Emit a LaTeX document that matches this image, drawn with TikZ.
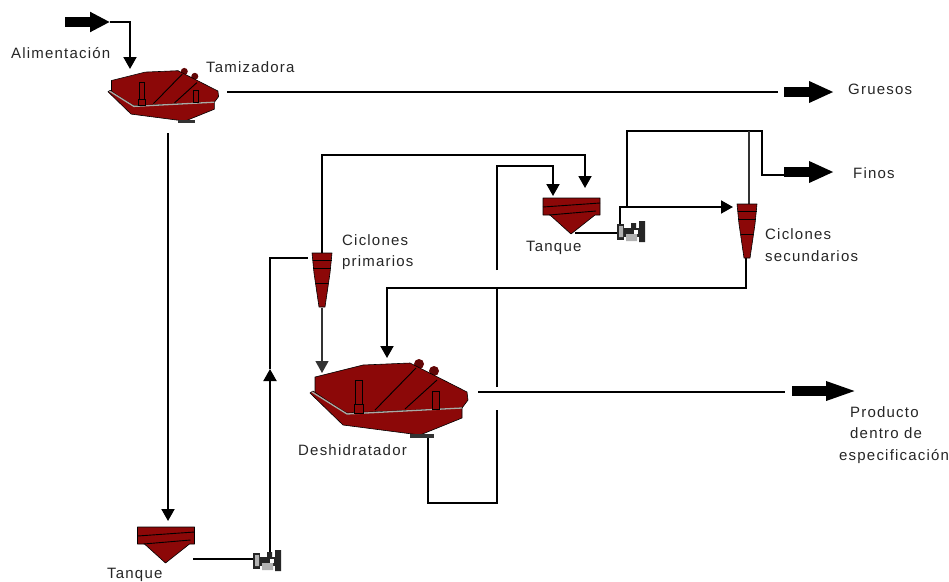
\documentclass[tikz,border=0pt]{standalone}
\usepackage{fontspec}
\setmainfont[LetterSpace=8]{Liberation Sans}
\usetikzlibrary{arrows.meta}
\definecolor{eqred}{RGB}{140,8,8}
\definecolor{eqgrey}{RGB}{170,170,165}
\tikzset{
  x=1pt,y=-1pt,
  flow/.style={draw=black,line width=1.9pt,line join=miter},
  thinflow/.style={draw=black!80,line width=1.2pt},
  tipped/.style={-{Triangle[length=12pt,width=13pt]}},
  bigtip/.style={draw=black,line width=9.5pt,-{Triangle[length=25pt,width=20pt]}},
  lab/.style={font=\fontsize{15}{21.5}\selectfont,inner sep=0pt,text=black!85,align=center},
  eq/.style={fill=eqred,draw=black,line width=.6pt,line join=round},
  eqline/.style={draw=black,line width=.9pt},
  screen/.pic={
    \fill[eqred!70!black] (109,-28) circle (5) (124,-21) circle (5);
    \path[eq] (5,-15) -- (53,-27) -- (100,-29) -- (157,0) -- (158,8) -- (152,16) -- (37,21) -- (5,2) -- cycle;
    \path[eq] (0,1) -- (3,-1) -- (37,22) -- (152,16) -- (152,26) -- (110,43) -- (33,33) -- cycle;
    \draw[eqgrey,line width=1.3pt] (2,0) -- (37,22) -- (152,16);
    \fill[black!80] (100,42) rectangle (124,46);
    \draw[eqline,fill=eqred] (45,-12) rectangle (52,12);
    \draw[eqline,fill=eqred] (44,12) rectangle (53,21);
    \draw[eqline,fill=eqred] (122,-1) rectangle (129,17);
    \draw[eqline] (65,18) -- (106,-24) (95,17) -- (127,-12);
  },
  hopper/.pic={
    \path[eq] (0,0) -- (57,0) -- (57,17) -- (52,17) -- (28,36) -- (7,17) -- (0,17) -- cycle;
    \draw[eqline] (0,9) -- (57,5) (6,17) -- (53,13);
  },
  cyclone/.pic={
    \path[eq] (-10,0) -- (10,0) -- (8,20) -- (3,54) -- (-3,54) -- (-8,20) -- cycle;
    \draw[eqline] (-9.5,7) -- (9.5,7) (-9,15) -- (9,15) (-6,30) -- (6,30);
  },
  pump/.pic={
    \fill[black!85] (0,3) rectangle (7,19);
    \fill[black!85] (7,7) rectangle (28,16);
    \fill[black!85] (14,2) rectangle (19,8) (22,0) rectangle (28,21);
    \fill[gray!60] (2,5) rectangle (6,16) (9,13) rectangle (20,20);
    \fill[white] (17,9) rectangle (21,13);
  }
}
\begin{document}
\begin{tikzpicture}
\useasboundingbox[fill=white] (0,0) rectangle (949,581);
% ports and bends
\coordinate (feedS) at (65,22);
\coordinate (feedT) at (110,22);
\coordinate (feedB) at (130,22);
\coordinate (feedE) at (130,69);
\coordinate (s1R) at (227,92);
\coordinate (s1Rb) at (778,92);
\coordinate (gruS) at (784,92);
\coordinate (gruE) at (834,92);
\coordinate (s1D) at (168,133);
\coordinate (t1T) at (168,521);
\coordinate (t1R) at (193,559);
\coordinate (p1L) at (255,559);
\coordinate (p1U) at (270,553);
\coordinate (upT) at (270,369);
\coordinate (c1Lb) at (270,258);
\coordinate (c1L) at (308,258);
\coordinate (c1T) at (322,254);
\coordinate (c1D) at (322,308);
\coordinate (s2T) at (322,373);
\coordinate (c1Ub) at (322,155);
\coordinate (t2Rb) at (585,155);
\coordinate (t2R) at (585,188);
\coordinate (s2D) at (428,438);
\coordinate (s2Db) at (428,503);
\coordinate (recB) at (497,503);
\coordinate (recG1) at (497,410);
\coordinate (recG2) at (497,387);
\coordinate (recG3) at (497,288);
\coordinate (recG4) at (497,270);
\coordinate (recT) at (497,166);
\coordinate (t2Lb) at (553,166);
\coordinate (t2L) at (553,196);
\coordinate (t2O) at (575,233);
\coordinate (p2L) at (619,233);
\coordinate (p2U) at (620,224);
\coordinate (p2Ub) at (620,207);
\coordinate (c2L) at (733,207);
\coordinate (brS) at (627,207);
\coordinate (brT) at (627,131);
\coordinate (brR) at (762,131);
\coordinate (brD) at (762,175);
\coordinate (brE) at (786,175);
\coordinate (c2Ub) at (749,131);
\coordinate (c2T) at (749,204);
\coordinate (finS) at (784,172);
\coordinate (finE) at (834,172);
\coordinate (c2D) at (746,258);
\coordinate (c2Db) at (746,288);
\coordinate (s2Tb) at (387,288);
\coordinate (s2Te) at (387,358);
\coordinate (s2R) at (478,392);
\coordinate (s2Rb) at (785,392);
\coordinate (proS) at (792,391);
\coordinate (proE) at (858,391);
% connectors
\draw[bigtip,-{Triangle[length=20pt,width=19pt]}] (feedS) -- (feedT);
\draw[flow,tipped] (feedT) -- (feedB) -- (feedE);
\draw[flow] (s1R) -- (s1Rb);
\draw[bigtip] (gruS) -- (gruE);
\draw[flow,tipped] (s1D) -- (t1T);
\draw[flow] (t1R) -- (p1L);
\draw[flow,tipped] (p1U) -- (upT);
\draw[flow] (upT) -- (c1Lb) -- (c1L);
\draw[thinflow,tipped] (c1D) -- (s2T);
\draw[flow,tipped] (c1T) -- (c1Ub) -- (t2Rb) -- (t2R);
\draw[flow] (s2D) -- (s2Db) -- (recB) -- (recG1);
\draw[flow] (recG2) -- (recG3);
\draw[flow,tipped] (recG4) -- (recT) -- (t2Lb) -- (t2L);
\draw[flow] (t2O) -- (p2L);
\draw[flow,tipped] (p2U) -- (p2Ub) -- (c2L);
\draw[flow] (brS) -- (brT) -- (brR) -- (brD) -- (brE);
\draw[thinflow] (c2Ub) -- (c2T);
\draw[bigtip] (finS) -- (finE);
\draw[flow,tipped] (c2D) -- (c2Db) -- (s2Tb) -- (s2Te);
\draw[flow] (s2R) -- (s2Rb);
\draw[bigtip,-{Triangle[length=32pt,width=17pt]}] (proS) -- (proE);
% equipment
\pic[scale=.7] at (108,91) {screen};
\pic at (310,392) {screen};
\pic at (137.5,527) {hopper};
\pic at (543,198) {hopper};
\pic at (322,253) {cyclone};
\pic at (747,204) {cyclone};
\pic at (253,550) {pump};
\pic at (617,221) {pump};
% labels
\node[lab,anchor=west] (lAli) at (11,53) {Alimentación};
\node[lab,anchor=west] (lTam) at (206,67) {Tamizadora};
\node[lab,anchor=west] (lGru) at (848,89) {Gruesos};
\node[lab,anchor=west] (lFin) at (853,173) {Finos};
\node[lab,anchor=west,align=left] (lC1) at (342,252) {Ciclones\\primarios};
\node[lab,anchor=west,align=left] (lC2) at (765,245) {Ciclones\\secundarios};
\node[lab,anchor=west] (lT2) at (526,248) {Tanque};
\node[lab,anchor=west] (lT1) at (107,575) {Tanque};
\node[lab,anchor=west] (lDes) at (298,450) {Deshidratador};
\node[lab,anchor=west,align=left] (lPro) at (839,435) {\hspace*{11pt}Producto\\\hspace*{11pt}dentro de\\especificación};
\end{tikzpicture}
\end{document}
